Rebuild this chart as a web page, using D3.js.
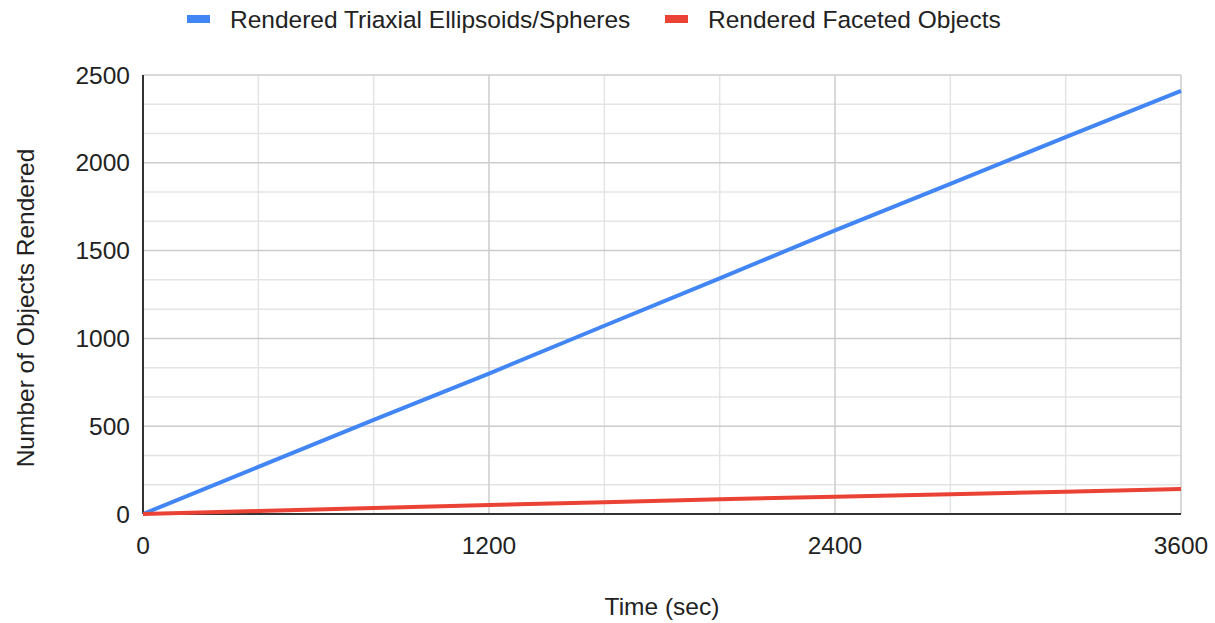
<!DOCTYPE html>
<html><head><meta charset="utf-8">
<script src="https://cdn.jsdelivr.net/npm/d3@7"></script>
<style>body{margin:0;background:#fff}svg{display:block;font-family:"Liberation Sans",Arial,sans-serif}</style>
</head><body><svg id="c" width="1215" height="623"></svg>
<script>
const timeSec = [0, 400, 800, 1200, 1600, 2000, 2400, 2800, 3200, 3600];
const triaxial = [0, 268, 536, 800, 1072, 1342, 1615, 1880, 2146, 2410];
const faceted = [0, 17, 34, 51, 67, 84, 98, 113, 127, 142];
const seriesNames = ["Rendered Triaxial Ellipsoids/Spheres", "Rendered Faceted Objects"];
const seriesColors = ["#4285F4", "#EA4335"];
const xTicks = [0, 1200, 2400, 3600];
const xMinor = [400, 800, 1600, 2000, 2800, 3200];
const yTicks = [0, 500, 1000, 1500, 2000, 2500];
const yMinor = [166.67, 333.33, 666.67, 833.33, 1166.67, 1333.33, 1666.67, 1833.33, 2166.67, 2333.33];

const svg = d3.select("#c");
const L = 143, R = 1181, T = 75, B = 514;
const FS = 24.5;
const x = d3.scaleLinear().domain([0, 3600]).range([L, R]);
const y = d3.scaleLinear().domain([0, 2500]).range([B, T]);

// grid
svg.append("g").selectAll("line").data(yMinor).join("line")
  .attr("x1", L).attr("x2", R).attr("y1", d => y(d)).attr("y2", d => y(d))
  .attr("stroke", "#e4e4e4").attr("stroke-width", 1.5);
svg.append("g").selectAll("line").data(xMinor).join("line")
  .attr("y1", T).attr("y2", B).attr("x1", d => x(d)).attr("x2", d => x(d))
  .attr("stroke", "#e4e4e4").attr("stroke-width", 1.5);
svg.append("g").selectAll("line").data(yTicks.slice(1)).join("line")
  .attr("x1", L).attr("x2", R).attr("y1", d => y(d)).attr("y2", d => y(d))
  .attr("stroke", "#cccccc").attr("stroke-width", 1.5);
svg.append("g").selectAll("line").data(xTicks.slice(1)).join("line")
  .attr("y1", T).attr("y2", B).attr("x1", d => x(d)).attr("x2", d => x(d))
  .attr("stroke", "#cccccc").attr("stroke-width", 1.5);

// axes lines
svg.append("line").attr("x1", L).attr("x2", L).attr("y1", T).attr("y2", B).attr("stroke", "#333").attr("stroke-width", 2);
svg.append("line").attr("x1", L).attr("x2", R).attr("y1", B).attr("y2", B).attr("stroke", "#333").attr("stroke-width", 2);

// tick labels
svg.append("g").selectAll("text").data(yTicks).join("text")
  .attr("x", 130).attr("y", d => y(d)).attr("dy", "0.35em").attr("text-anchor", "end")
  .attr("font-size", FS).attr("fill", "#222").text(d => d);
svg.append("g").selectAll("text").data(xTicks).join("text")
  .attr("x", d => x(d)).attr("y", 554).attr("text-anchor", "middle")
  .attr("font-size", FS).attr("fill", "#222").text(d => d);

// axis titles
svg.append("text").attr("x", 662).attr("y", 615).attr("text-anchor", "middle")
  .attr("font-size", FS).attr("fill", "#222").text("Time (sec)");
svg.append("text").attr("transform", "translate(34,308) rotate(-90)").attr("text-anchor", "middle")
  .attr("font-size", FS).attr("fill", "#222").text("Number of Objects Rendered");

// lines
const line = d3.line().x((d, i) => x(timeSec[i])).y(d => y(d));
[triaxial, faceted].forEach((s, k) => {
  svg.append("path").datum(s).attr("d", line).attr("fill", "none")
    .attr("stroke", seriesColors[k]).attr("stroke-width", 4).attr("stroke-linejoin", "round");
});

// legend
const legX = [187, 665];
seriesNames.forEach((n, k) => {
  svg.append("rect").attr("x", legX[k]).attr("y", 15).attr("width", 23).attr("height", 8).attr("fill", seriesColors[k]);
  svg.append("text").attr("x", legX[k] + 43).attr("y", 19).attr("dy", "0.35em")
    .attr("font-size", FS).attr("fill", "#222").text(n);
});
</script></body></html>
